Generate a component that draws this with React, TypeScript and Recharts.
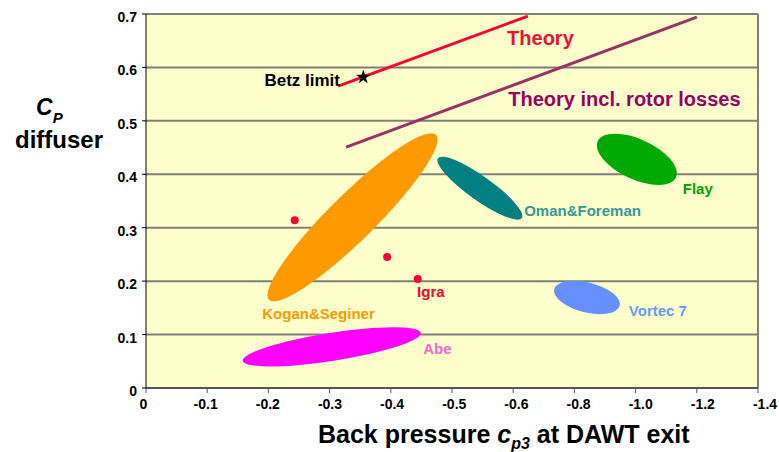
import React from "react";
import {
  ScatterChart,
  Scatter,
  XAxis,
  YAxis,
  CartesianGrid,
  ReferenceLine,
} from "recharts";

// x axis is not linear in value: ticks are evenly spaced, so x is a tick index
const xTickLabels = ["0", "-0.1", "-0.2", "-0.3", "-0.4", "-0.5", "-0.6", "-0.8", "-1.0", "-1.2", "-1.4"];
const xTicks = [0, 1, 2, 3, 4, 5, 6, 7, 8, 9, 10];
const yTicks = [0, 0.1, 0.2, 0.3, 0.4, 0.5, 0.6, 0.7];

// ellipse = the two tips of its long axis
const koganTips = [{ x: 2.01, y: 0.165 }, { x: 4.74, y: 0.474 }];
const omanTips = [{ x: 4.77, y: 0.43 }, { x: 6.14, y: 0.318 }];
const flayTips = [{ x: 7.38, y: 0.462 }, { x: 8.66, y: 0.394 }];
const vortecTips = [{ x: 6.67, y: 0.185 }, { x: 7.74, y: 0.154 }];
const abeTips = [{ x: 1.58, y: 0.051 }, { x: 4.49, y: 0.103 }];

const igraPoints = [{ x: 2.43, y: 0.314 }, { x: 3.94, y: 0.245 }, { x: 4.44, y: 0.204 }];
const theoryLine = [{ x: 3.14, y: 0.565 }, { x: 6.24, y: 0.696 }];
const rotorLossLine = [{ x: 3.27, y: 0.451 }, { x: 9.0, y: 0.694 }];
const betzPoint = [{ x: 3.55, y: 0.582 }];

const labelTexts = ["Theory", "Theory incl. rotor losses", "Betz limit", "Flay", "Oman&Foreman", "Vortec 7", "Igra", "Kogan&Seginer", "Abe"];
const labelX = [5.9, 5.92, 3.17, 8.77, 6.18, 7.89, 4.43, 1.9, 4.53];
const labelY = [0.642, 0.528, 0.565, 0.363, 0.322, 0.135, 0.17, 0.129, 0.064];

const labelStyle: Record<string, { color: string; size: number; anchor?: string }> = {
  Theory: { color: "#EE1133", size: 20 },
  "Theory incl. rotor losses": { color: "#990066", size: 20 },
  "Betz limit": { color: "#000000", size: 17, anchor: "end" },
  Flay: { color: "#00A000", size: 15 },
  "Oman&Foreman": { color: "#339999", size: 15 },
  "Vortec 7": { color: "#6699FF", size: 15 },
  Igra: { color: "#FF0033", size: 15 },
  "Kogan&Seginer": { color: "#FF9900", size: 15 },
  Abe: { color: "#FF66CC", size: 15 },
};

const ellipses = [
  { name: "Kogan&Seginer", data: koganTips, color: "#FF9900", half: 23 },
  { name: "Oman&Foreman", data: omanTips, color: "#008080", half: 12 },
  { name: "Flay", data: flayTips, color: "#00AA00", half: 20 },
  { name: "Vortec 7", data: vortecTips, color: "#6690FF", half: 15 },
  { name: "Abe", data: abeTips, color: "#FF00FF", half: 14 },
];

const FONT = "'Liberation Sans', Arial, sans-serif";
const labelData = labelTexts.map((t, i) => ({ x: labelX[i], y: labelY[i], text: t }));

const noShape = () => <g />;

const ellipseLine = (color: string, half: number) => (props: any) => {
  const [a, b] = props.points;
  const cx = (a.x + b.x) / 2;
  const cy = (a.y + b.y) / 2;
  const len = Math.hypot(b.x - a.x, b.y - a.y);
  const ang = (Math.atan2(b.y - a.y, b.x - a.x) * 180) / Math.PI;
  return (
    <ellipse
      cx={cx}
      cy={cy}
      rx={len / 2}
      ry={half}
      fill={color}
      transform={`rotate(${ang} ${cx} ${cy})`}
    />
  );
};

const YTick = ({ x, y, payload }: any) => (
  <text x={x} y={y + 8} textAnchor="end" fontSize={14} fontWeight="bold" fontFamily={FONT} fill="#000">
    {payload.value === 0 ? "0" : payload.value.toFixed(1)}
  </text>
);

const XTick = ({ x, y, payload }: any) => (
  <text
    x={x - 2.5 + payload.value * 0.95}
    y={y + 14}
    textAnchor="middle"
    fontSize={14}
    fontWeight="bold"
    fontFamily={FONT}
    fill="#000"
  >
    {xTickLabels[payload.value]}
  </text>
);

const LabelShape = (p: any) => {
  const s = labelStyle[p.payload.text];
  return (
    <text
      x={p.cx}
      y={p.cy}
      fill={s.color}
      fontSize={s.size}
      fontWeight="bold"
      fontFamily={FONT}
      textAnchor={s.anchor || "start"}
    >
      {p.payload.text}
    </text>
  );
};

export default function App() {
  return (
    <div style={{ position: "relative", width: 779, height: 452, background: "#fff", fontFamily: FONT }}>
      <style>{`body{margin:0}`}</style>
      <ScatterChart width={779} height={452} margin={{ top: 14, right: 21, bottom: 34, left: 86 }}>
        <CartesianGrid vertical={false} fill="#FFFFCC" stroke="#80807a" strokeWidth={2} />
        <XAxis
          type="number"
          dataKey="x"
          domain={[0, 10]}
          ticks={xTicks}
          height={30}
          tick={XTick}
          tickSize={5}
          tickMargin={2}
          axisLine={{ stroke: "#555", strokeWidth: 2 }}
          tickLine={{ stroke: "#555" }}
          allowDataOverflow
        />
        <YAxis
          type="number"
          dataKey="y"
          domain={[0, 0.7]}
          ticks={yTicks}
          width={60}
          tick={YTick}
          tickSize={4}
          tickMargin={5}
          axisLine={{ stroke: "#000" }}
          tickLine={{ stroke: "#000" }}
          allowDataOverflow
        />
        <ReferenceLine x={10} stroke="#80807a" strokeWidth={2} />
        {ellipses.map((e) => (
          <Scatter
            key={e.name}
            data={e.data}
            shape={noShape}
            line={ellipseLine(e.color, e.half)}
            isAnimationActive={false}
          />
        ))}
        <Scatter data={theoryLine} shape={noShape} line={{ stroke: "#FF0033", strokeWidth: 3 }} isAnimationActive={false} />
        <Scatter data={rotorLossLine} shape={noShape} line={{ stroke: "#993366", strokeWidth: 3 }} isAnimationActive={false} />
        <Scatter
          data={igraPoints}
          shape={(p: any) => <circle cx={p.cx} cy={p.cy} r={4} fill="#FF0033" />}
          isAnimationActive={false}
        />
        <Scatter data={betzPoint} shape="star" fill="#000" isAnimationActive={false} />
        <Scatter data={labelData} shape={LabelShape} isAnimationActive={false} />
      </ScatterChart>
      <svg width={779} height={452} style={{ position: "absolute", left: 0, top: 0, pointerEvents: "none" }}>
        <text x={36} y={115} fontSize={23} fontWeight="bold" fontStyle="italic" fontFamily={FONT}>
          C<tspan fontSize={15} dy={8}>P</tspan>
        </text>
        <text x={15} y={148} fontSize={24} fontWeight="bold" fontFamily={FONT}>
          diffuser
        </text>
        <text x={318} y={443} fontSize={25} fontWeight="bold" fontFamily={FONT}>
          Back pressure <tspan fontStyle="italic">c</tspan>
          <tspan fontStyle="italic" fontSize={16} dy={6}>p3</tspan>
          <tspan dy={-6}> at DAWT exit</tspan>
        </text>
      </svg>
    </div>
  );
}
